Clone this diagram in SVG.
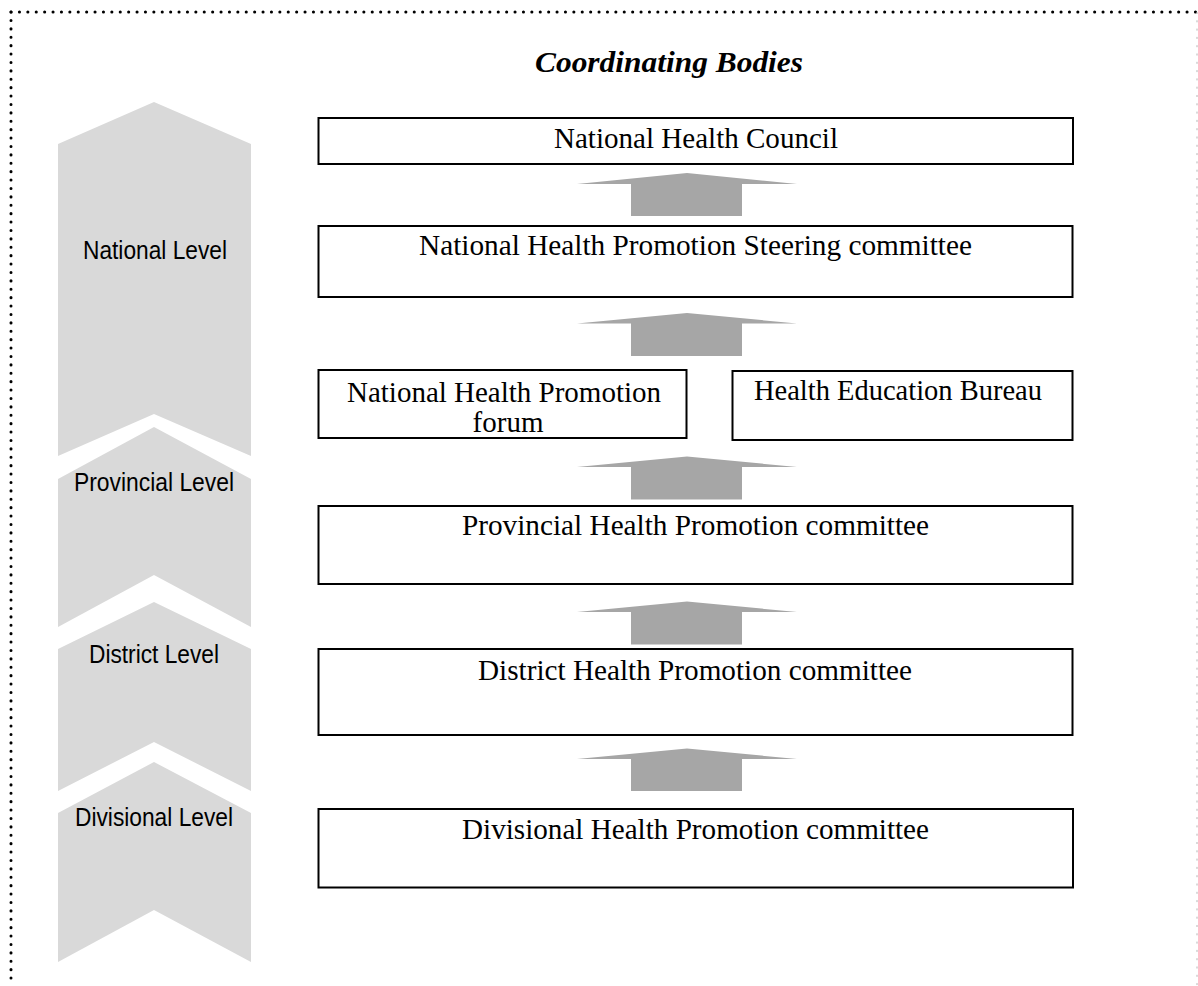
<svg xmlns="http://www.w3.org/2000/svg" width="1198" height="986" viewBox="0 0 1198 986">
<style>
  .border { fill: none; stroke: #000; stroke-width: 3; stroke-linecap: round; stroke-dasharray: 0.1 8.3; }
  .chev { fill: #d9d9d9; stroke: none; }
  .lvl { font-family: "Liberation Sans", Arial, sans-serif; font-size: 26px; fill: #000; }
  .box { fill: #fff; stroke: #000; stroke-width: 2; }
  .lbl { font-family: "Liberation Serif", "Times New Roman", serif; font-size: 29px; fill: #000; }
  .title { font-family: "Liberation Serif", "Times New Roman", serif; font-size: 30px; font-weight: bold; font-style: italic; fill: #000; }
  .arrow { fill: #a6a6a6; stroke: none; }
</style>
<rect x="0" y="0" width="1198" height="986" fill="#fff"/>
<g id="frame">
  <line class="border" x1="11" y1="12" x2="1196" y2="12"/>
  <line class="border" x1="11" y1="12" x2="11" y2="986"/>
  <line x1="1197" y1="12" x2="1197" y2="986" stroke="#b5b5b5" stroke-width="1" stroke-dasharray="2 6.3"/>
</g>
<g id="title">
  <text class="title" x="535" y="72" textLength="268" lengthAdjust="spacingAndGlyphs">Coordinating Bodies</text>
</g>
<g id="levels">
  <g id="level-national">
    <polygon class="chev" points="58,144 154,102 251,144 251,456 154,414 58,456"/>
    <text class="lvl" x="83" y="259" textLength="144" lengthAdjust="spacingAndGlyphs">National Level</text>
  </g>
  <g id="level-provincial">
    <polygon class="chev" points="58,479 154,427 251,479 251,627 154,575 58,627"/>
    <text class="lvl" x="74" y="491" textLength="160" lengthAdjust="spacingAndGlyphs">Provincial Level</text>
  </g>
  <g id="level-district">
    <polygon class="chev" points="58,649 154,602 251,649 251,791 154,742 58,791"/>
    <text class="lvl" x="89" y="663" textLength="130" lengthAdjust="spacingAndGlyphs">District Level</text>
  </g>
  <g id="level-divisional">
    <polygon class="chev" points="58,813 154,762 251,813 251,962 154,910 58,962"/>
    <text class="lvl" x="75" y="826" textLength="158" lengthAdjust="spacingAndGlyphs">Divisional Level</text>
  </g>
</g>
<g id="connectors">
  <polygon class="arrow" points="577,184 687,173 797,184 742,184 742,216 631,216 631,184"/>
  <polygon class="arrow" points="577,323.5 687,313 797,323.5 742,323.5 742,356 631,356 631,323.5"/>
  <polygon class="arrow" points="577,467 687,456.5 797,467 742,467 742,499.5 631,499.5 631,467"/>
  <polygon class="arrow" points="577,612 687,601.5 797,612 742,612 742,644.5 631,644.5 631,612"/>
  <polygon class="arrow" points="577,759 687,748.5 797,759 742,759 742,791 631,791 631,759"/>
</g>
<g id="node-nhc">
  <rect class="box" x="318.5" y="118" width="754.5" height="46"/>
  <text class="lbl" x="554" y="148" textLength="284" lengthAdjust="spacingAndGlyphs">National Health Council</text>
</g>
<g id="node-steering">
  <rect class="box" x="318.5" y="226" width="754" height="71"/>
  <text class="lbl" x="419" y="255" textLength="553" lengthAdjust="spacingAndGlyphs">National Health Promotion Steering committee</text>
</g>
<g id="node-forum">
  <rect class="box" x="318.5" y="370" width="368" height="68"/>
  <text class="lbl" x="347" y="401.5" textLength="314" lengthAdjust="spacingAndGlyphs">National Health Promotion</text>
  <text class="lbl" x="508" y="431.5" text-anchor="middle">forum</text>
</g>
<g id="node-heb">
  <rect class="box" x="732.5" y="371" width="340" height="69"/>
  <text class="lbl" x="754" y="400" textLength="288" lengthAdjust="spacingAndGlyphs">Health Education Bureau</text>
</g>
<g id="node-provincial">
  <rect class="box" x="318.5" y="506" width="754" height="78"/>
  <text class="lbl" x="462" y="535" textLength="467" lengthAdjust="spacingAndGlyphs">Provincial Health Promotion committee</text>
</g>
<g id="node-district">
  <rect class="box" x="318.5" y="649" width="754" height="86"/>
  <text class="lbl" x="478" y="680" textLength="434" lengthAdjust="spacingAndGlyphs">District Health Promotion committee</text>
</g>
<g id="node-divisional">
  <rect class="box" x="318.5" y="809" width="754.5" height="78.5"/>
  <text class="lbl" x="462" y="839" textLength="467" lengthAdjust="spacingAndGlyphs">Divisional Health Promotion committee</text>
</g>
</svg>
